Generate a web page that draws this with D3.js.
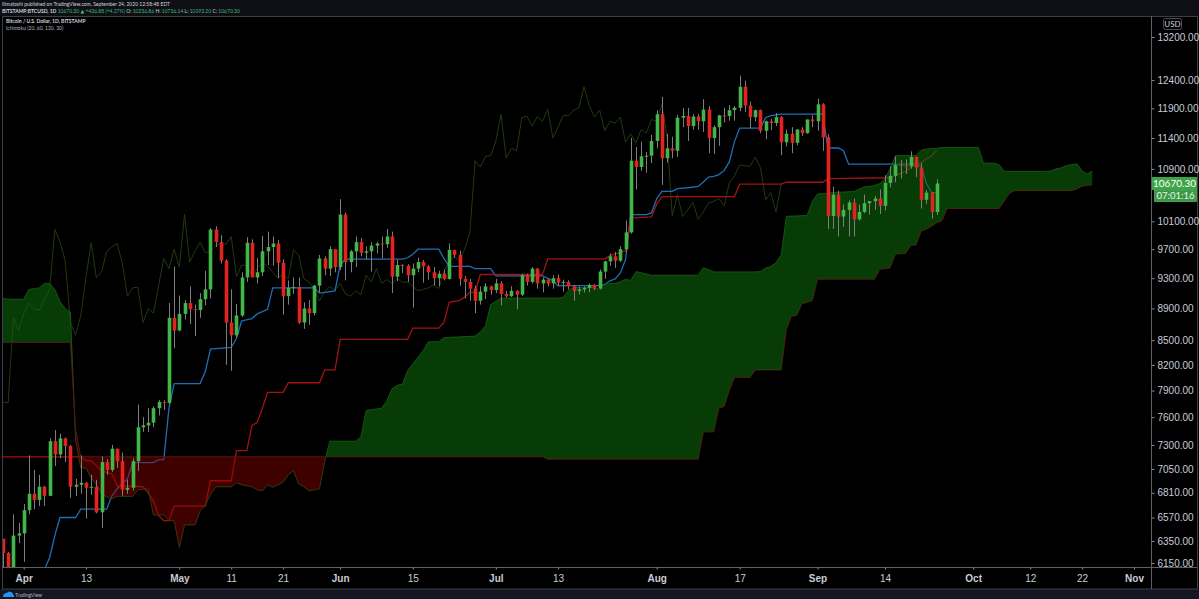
<!DOCTYPE html>
<html>
<head>
<meta charset="utf-8">
<script src="https://cdn.jsdelivr.net/npm/d3@7"></script>
<style>
  html, body { margin: 0; padding: 0; background: #000; }
  svg { display: block; font-family: Lato, "Open Sans", "DejaVu Sans", sans-serif; }
</style>
</head>
<body>
<div id="chart"></div>
<script>
// BITSTAMP:BTCUSD 1D with Ichimoku (20, 60, 120, 30)

// daily candles from 2020-03-27 to 2020-09-24
var firstDay = "2020-03-27";
var open = [
  6760, 6370, 6240, 5880, 6400,
  6420, 6640, 6800, 6740, 6870, 6780, 7340, 7200, 7370, 7290, 6870, 6890, 6910, 6860, 6870, 6620, 7120, 7040, 7260, 7130, 6840, 6860, 7130, 7490, 7510, 7540, 7700, 7770, 7760, 8780,
  8620, 8830, 8970, 8890, 8880, 9020, 9150, 9980, 9800, 9540, 8720, 8560, 8810, 9310, 9790, 9310, 9380, 9670, 9730, 9780, 9510, 9060, 9170, 9180, 8720, 8900, 8840, 9200, 9570, 9430, 9700,
  9450, 10200, 9520, 9670, 9800, 9650, 9670, 9750, 9780, 9770, 9880, 9320, 9480, 9470, 9340, 9430, 9520, 9460, 9380, 9300, 9360, 9290, 9690, 9620, 9290, 9250, 9160, 9000, 9120, 9190,
  9140, 9230, 9090, 9060, 9130, 9080, 9340, 9250, 9430, 9230, 9280, 9230, 9300, 9240, 9250, 9190, 9130, 9150, 9170, 9210, 9160, 9390, 9530, 9600, 9540, 9700, 9940, 11030, 10930, 11100, 11110,
  11350, 11800, 11070, 11230, 11190, 11740, 11770, 11600, 11760, 11680, 11880, 11400, 11580, 11780, 11770, 11870, 11910, 12280, 11950, 11750, 11870, 11520, 11680, 11650, 11750, 11330, 11470, 11320, 11540, 11480, 11710,
  11680, 11970, 11410, 10180, 10500, 10170, 10270, 10380, 10130, 10240, 10370, 10400, 10440, 10330, 10680, 10790, 10960, 10950, 10940, 11090, 10920, 10420, 10530, 10236.86
];
var high = [
  6850, 6370, 6250, 6600, 6520,
  6700, 7190, 7040, 6990, 6880, 7370, 7460, 7420, 7380, 7300, 6950, 7190, 6915, 6990, 6940, 7180, 7150, 7300, 7260, 7220, 6940, 7160, 7740, 7600, 7700, 7720, 7790, 7790, 8970, 9460,
  9070, 9010, 9190, 8950, 9100, 9400, 10000, 10030, 9900, 9560, 9150, 8960, 9380, 9870, 9840, 9580, 9890, 9950, 9880, 9830, 9560, 9270, 9310, 9310, 8980, 9010, 9210, 9620, 9600, 9740, 9700,
  10430, 10230, 9690, 9880, 9860, 9740, 9800, 9800, 9880, 9990, 9950, 9550, 9490, 9490, 9500, 9580, 9550, 9480, 9450, 9400, 9420, 9780, 9690, 9680, 9330, 9290, 9200, 9190, 9230, 9200,
  9290, 9260, 9130, 9190, 9140, 9360, 9360, 9450, 9440, 9310, 9300, 9340, 9350, 9280, 9270, 9210, 9190, 9190, 9230, 9220, 9420, 9540, 9640, 9660, 9740, 10110, 11400, 11250, 11340, 11170, 11450,
  11870, 12100, 11470, 11420, 11790, 11910, 11910, 11800, 11800, 12060, 11940, 11610, 11790, 11910, 11960, 11940, 12480, 12390, 12020, 11880, 11880, 11690, 11720, 11820, 11770, 11540, 11580, 11550, 11580, 11710, 11780,
  12070, 11990, 11460, 10620, 10560, 10350, 10410, 10440, 10350, 10500, 10400, 10480, 10580, 10800, 10940, 11100, 11040, 11050, 11180, 11100, 10990, 10570, 10540, 10736.14
];
var low = [
  6250, 6030, 5860, 5860, 6330,
  6160, 6600, 6650, 6680, 6680, 6780, 7080, 7160, 7120, 6760, 6780, 6800, 6560, 6790, 6610, 6470, 6990, 7020, 7060, 6780, 6800, 6830, 7030, 7440, 7440, 7490, 7620, 7680, 7740, 8400,
  8610, 8760, 8700, 8550, 8780, 8940, 9030, 9730, 9500, 8200, 8130, 8540, 8790, 9250, 9320, 9230, 9330, 9480, 9470, 9300, 8820, 8950, 9090, 8700, 8640, 8690, 8810, 9110, 9340, 9330, 9380,
  9410, 9270, 9380, 9450, 9600, 9560, 9390, 9640, 9570, 9720, 9100, 9260, 9370, 9250, 8910, 9380, 9240, 9280, 9200, 9190, 9270, 9280, 9580, 9200, 9030, 9000, 8840, 8950, 9020, 9080,
  9100, 8940, 9040, 9050, 8890, 9060, 9200, 9230, 9160, 9110, 9190, 9160, 9190, 9120, 9150, 9000, 9080, 9110, 9110, 9140, 9150, 9290, 9470, 9440, 9520, 9650, 9920, 10580, 10870, 10840, 10990,
  11230, 10650, 11000, 11070, 11090, 11580, 11350, 11540, 11540, 11500, 11150, 11140, 11270, 11660, 11690, 11690, 11850, 11840, 11560, 11680, 11480, 11380, 11530, 11600, 11120, 11260, 11150, 11280, 11430, 11470, 11580,
  11520, 11190, 9990, 9990, 9880, 10020, 9880, 9880, 10110, 10220, 10200, 10270, 10210, 10260, 10610, 10690, 10750, 10820, 10900, 10770, 10290, 10360, 10140, 10193.20
];
var close = [
  6370, 6240, 5880, 6400, 6420,
  6640, 6800, 6740, 6870, 6780, 7340, 7200, 7370, 7290, 6870, 6890, 6910, 6860, 6870, 6620, 7120, 7040, 7260, 7130, 6840, 6860, 7130, 7490, 7510, 7540, 7700, 7770, 7760, 8780, 8620,
  8830, 8970, 8890, 8880, 9020, 9150, 9980, 9800, 9540, 8720, 8560, 8810, 9310, 9790, 9310, 9380, 9670, 9730, 9780, 9510, 9060, 9170, 9180, 8720, 8900, 8840, 9200, 9570, 9430, 9700, 9450,
  10200, 9520, 9670, 9800, 9650, 9670, 9750, 9780, 9770, 9880, 9320, 9480, 9470, 9340, 9430, 9520, 9460, 9380, 9300, 9360, 9290, 9690, 9620, 9290, 9250, 9160, 9000, 9120, 9190, 9140,
  9230, 9090, 9060, 9130, 9080, 9340, 9250, 9430, 9230, 9280, 9230, 9300, 9240, 9250, 9190, 9130, 9150, 9170, 9210, 9160, 9390, 9530, 9600, 9540, 9700, 9940, 11030, 10930, 11100, 11110, 11350,
  11800, 11070, 11230, 11190, 11740, 11770, 11600, 11760, 11680, 11880, 11400, 11580, 11780, 11770, 11870, 11910, 12280, 11950, 11750, 11870, 11520, 11680, 11650, 11750, 11330, 11470, 11320, 11540, 11480, 11710, 11680,
  11970, 11410, 10180, 10500, 10170, 10270, 10380, 10130, 10240, 10370, 10400, 10440, 10330, 10680, 10790, 10960, 10950, 10940, 11090, 10920, 10420, 10530, 10240, 10670.30
];

// ichimoku lines, [date, price] at each change
var conversionLine = [
  ["2020-03-27", 5650], ["2020-04-01", 5400], ["2020-04-04", 5820], ["2020-04-05", 6090], ["2020-04-06", 6200],
  ["2020-04-07", 6400], ["2020-04-08", 6570], ["2020-04-11", 6570], ["2020-04-12", 6650], ["2020-04-17", 6650],
  ["2020-04-18", 6780], ["2020-04-19", 6850], ["2020-04-21", 6950], ["2020-04-22", 7115], ["2020-04-26", 7115],
  ["2020-04-27", 7145], ["2020-04-28", 7145], ["2020-04-29", 7700], ["2020-04-30", 7980], ["2020-05-05", 7980],
  ["2020-05-06", 8120], ["2020-05-07", 8390], ["2020-05-11", 8410], ["2020-05-12", 8520], ["2020-05-13", 8740],
  ["2020-05-15", 8770], ["2020-05-16", 8830], ["2020-05-17", 8860], ["2020-05-18", 8890], ["2020-05-19", 9170],
  ["2020-05-27", 9170], ["2020-05-28", 9100], ["2020-05-31", 9130], ["2020-06-01", 9480], ["2020-06-02", 9560],
  ["2020-06-13", 9560], ["2020-06-14", 9580], ["2020-06-15", 9630], ["2020-06-16", 9700], ["2020-06-20", 9700],
  ["2020-06-21", 9570], ["2020-06-22", 9460], ["2020-06-26", 9460], ["2020-06-27", 9430], ["2020-06-30", 9430],
  ["2020-07-01", 9330], ["2020-07-10", 9330], ["2020-07-12", 9265], ["2020-07-13", 9200], ["2020-07-21", 9200],
  ["2020-07-22", 9215], ["2020-07-23", 9265], ["2020-07-24", 9290], ["2020-07-25", 9370], ["2020-07-26", 9555],
  ["2020-07-27", 10200], ["2020-07-30", 10200], ["2020-07-31", 10225], ["2020-08-01", 10435], ["2020-08-02", 10550],
  ["2020-08-04", 10550], ["2020-08-05", 10590], ["2020-08-07", 10605], ["2020-08-09", 10625], ["2020-08-10", 10695],
  ["2020-08-11", 10770], ["2020-08-12", 10780], ["2020-08-13", 10810], ["2020-08-14", 10875], ["2020-08-15", 11010],
  ["2020-08-16", 11340], ["2020-08-17", 11565], ["2020-08-21", 11565], ["2020-08-22", 11740], ["2020-08-23", 11775],
  ["2020-08-25", 11800], ["2020-09-02", 11800], ["2020-09-03", 11235], ["2020-09-05", 11235], ["2020-09-06", 11190],
  ["2020-09-07", 10975], ["2020-09-20", 10975], ["2020-09-21", 10935], ["2020-09-22", 10670], ["2020-09-23", 10530],
  ["2020-09-24", 10530]
];
var baseLine = [
  ["2020-03-27", 7175], ["2020-04-12", 7175], ["2020-04-13", 7135], ["2020-04-14", 7135], ["2020-04-15", 7085],
  ["2020-04-16", 7030], ["2020-04-18", 7000], ["2020-04-19", 6880], ["2020-04-24", 6870], ["2020-04-25", 6810],
  ["2020-04-26", 6730], ["2020-04-27", 6590], ["2020-04-28", 6540], ["2020-04-29", 6540], ["2020-04-30", 6680],
  ["2020-05-06", 6680], ["2020-05-07", 6930], ["2020-05-11", 6930], ["2020-05-12", 7240], ["2020-05-14", 7240],
  ["2020-05-15", 7510], ["2020-05-16", 7540], ["2020-05-17", 7700], ["2020-05-18", 7880], ["2020-05-21", 7880],
  ["2020-05-22", 7990], ["2020-05-28", 7990], ["2020-05-29", 8140], ["2020-05-31", 8140], ["2020-06-01", 8510],
  ["2020-06-14", 8510], ["2020-06-15", 8650], ["2020-06-20", 8650], ["2020-06-21", 8720], ["2020-06-22", 8980],
  ["2020-06-24", 9005], ["2020-06-25", 9045], ["2020-06-26", 9110], ["2020-06-27", 9110], ["2020-06-28", 9350],
  ["2020-07-10", 9350], ["2020-07-11", 9565], ["2020-07-22", 9565], ["2020-07-23", 9610], ["2020-07-26", 9680],
  ["2020-07-27", 10150], ["2020-07-31", 10165], ["2020-08-01", 10355], ["2020-08-02", 10470], ["2020-08-16", 10470],
  ["2020-08-17", 10660], ["2020-08-25", 10660], ["2020-08-26", 10690], ["2020-09-02", 10690], ["2020-09-03", 10745],
  ["2020-09-15", 10760], ["2020-09-17", 10830], ["2020-09-18", 10860], ["2020-09-19", 10930], ["2020-09-21", 11000],
  ["2020-09-22", 11060], ["2020-09-23", 11110], ["2020-09-24", 11200]
];
var leadingSpanA = [
  ["2020-03-27", 9050], ["2020-03-29", 9020], ["2020-04-01", 9020], ["2020-04-02", 9150], ["2020-04-04", 9170],
  ["2020-04-05", 9230], ["2020-04-06", 9230], ["2020-04-07", 9150], ["2020-04-08", 8990], ["2020-04-09", 8900],
  ["2020-04-10", 8850], ["2020-04-11", 7350], ["2020-04-12", 7060], ["2020-04-13", 7060], ["2020-04-14", 6960],
  ["2020-04-15", 6890], ["2020-04-16", 6800], ["2020-04-17", 6770], ["2020-04-18", 6750], ["2020-04-19", 6775],
  ["2020-04-22", 6775], ["2020-04-23", 6840], ["2020-04-25", 6850], ["2020-04-26", 6595], ["2020-04-28", 6595],
  ["2020-04-29", 6540], ["2020-04-30", 6540], ["2020-05-01", 6290], ["2020-05-02", 6500], ["2020-05-04", 6500],
  ["2020-05-05", 6635], ["2020-05-06", 6690], ["2020-05-07", 6790], ["2020-05-08", 6870], ["2020-05-11", 6870],
  ["2020-05-12", 6910], ["2020-05-13", 6890], ["2020-05-15", 6870], ["2020-05-16", 6840], ["2020-05-17", 6830],
  ["2020-05-18", 6890], ["2020-05-19", 6865], ["2020-05-21", 6915], ["2020-05-22", 6990], ["2020-05-23", 7030],
  ["2020-05-24", 6900], ["2020-05-25", 6870], ["2020-05-26", 6830], ["2020-05-27", 6840], ["2020-05-28", 6850],
  ["2020-05-29", 7120], ["2020-05-30", 7340], ["2020-06-04", 7340], ["2020-06-05", 7390], ["2020-06-06", 7674],
  ["2020-06-09", 7700], ["2020-06-10", 7786], ["2020-06-11", 7920], ["2020-06-12", 7960], ["2020-06-13", 7975],
  ["2020-06-14", 8133], ["2020-06-15", 8210], ["2020-06-17", 8373], ["2020-06-18", 8480], ["2020-06-20", 8480],
  ["2020-06-21", 8530], ["2020-06-27", 8550], ["2020-06-28", 8600], ["2020-06-29", 8680], ["2020-06-30", 8950],
  ["2020-07-01", 8995], ["2020-07-02", 9035], ["2020-07-13", 9035], ["2020-07-14", 9045], ["2020-07-15", 9140],
  ["2020-07-16", 9175], ["2020-07-20", 9175], ["2020-07-21", 9145], ["2020-07-22", 9220], ["2020-07-24", 9232],
  ["2020-07-25", 9252], ["2020-07-26", 9285], ["2020-07-27", 9270], ["2020-07-28", 9390], ["2020-07-31", 9340],
  ["2020-08-09", 9340], ["2020-08-10", 9445], ["2020-08-11", 9415], ["2020-08-12", 9385], ["2020-08-20", 9385],
  ["2020-08-21", 9390], ["2020-08-22", 9438], ["2020-08-23", 9460], ["2020-08-24", 9510], ["2020-08-25", 9620],
  ["2020-08-26", 10175], ["2020-08-30", 10185], ["2020-08-31", 10395], ["2020-09-01", 10510], ["2020-09-04", 10530],
  ["2020-09-06", 10540], ["2020-09-08", 10548], ["2020-09-09", 10580], ["2020-09-10", 10620], ["2020-09-11", 10625],
  ["2020-09-12", 10640], ["2020-09-13", 10670], ["2020-09-14", 10740], ["2020-09-15", 10905], ["2020-09-16", 11110],
  ["2020-09-20", 11112], ["2020-09-21", 11200], ["2020-09-22", 11218], ["2020-09-24", 11230], ["2020-09-25", 11245],
  ["2020-10-02", 11245], ["2020-10-03", 10990], ["2020-10-05", 10990], ["2020-10-06", 10965], ["2020-10-07", 10860],
  ["2020-10-15", 10860], ["2020-10-16", 10868], ["2020-10-17", 10900], ["2020-10-18", 10918], ["2020-10-19", 10953],
  ["2020-10-21", 10980], ["2020-10-22", 10865], ["2020-10-23", 10820], ["2020-10-24", 10865]
];
var leadingSpanB = [
  ["2020-03-27", 8470], ["2020-04-10", 8470], ["2020-04-11", 7470], ["2020-04-12", 7175], ["2020-07-10", 7175],
  ["2020-07-11", 7150], ["2020-08-09", 7150], ["2020-08-10", 7440], ["2020-08-12", 7440], ["2020-08-13", 7700],
  ["2020-08-14", 7720], ["2020-08-15", 7900], ["2020-08-16", 8050], ["2020-08-19", 8050], ["2020-08-20", 8140],
  ["2020-08-25", 8140], ["2020-08-26", 8630], ["2020-08-27", 8800], ["2020-08-28", 8810], ["2020-08-29", 8960],
  ["2020-08-31", 9000], ["2020-09-01", 9285], ["2020-09-12", 9285], ["2020-09-13", 9420], ["2020-09-15", 9440],
  ["2020-09-16", 9630], ["2020-09-18", 9640], ["2020-09-19", 9755], ["2020-09-20", 9760], ["2020-09-21", 9960],
  ["2020-09-22", 9985], ["2020-09-23", 10030], ["2020-09-24", 10080], ["2020-09-25", 10110], ["2020-09-26", 10290],
  ["2020-10-06", 10290], ["2020-10-07", 10400], ["2020-10-08", 10520], ["2020-10-09", 10560], ["2020-10-20", 10560],
  ["2020-10-21", 10585], ["2020-10-22", 10630], ["2020-10-24", 10650]
];
var laggingShiftDays = 30;

// axis ticks
var priceTicks = [13200, 12400, 11900, 11400, 10900, 10100, 9700, 9300, 8900, 8500, 8200, 7900, 7600, 7300, 7050, 6810, 6570, 6350, 6150];
var dateTicks = ["2020-04-01", "2020-04-13", "2020-05-01", "2020-05-11", "2020-05-21", "2020-06-01", "2020-06-15", "2020-07-01", "2020-07-13", "2020-08-01", "2020-08-17", "2020-09-01", "2020-09-14", "2020-10-01", "2020-10-12", "2020-10-22", "2020-11-01"];
var dateTickLabels = ["Apr", "13", "May", "11", "21", "Jun", "15", "Jul", "13", "Aug", "17", "Sep", "14", "Oct", "12", "22", "Nov"];

// dimensions

var width = 1199;
var height = 599;
var plot = { left: 2, top: 16, right: 1151, bottom: 567 };

var colUp = "#43b649", colDown = "#e3241e", colWick = "#7e7e7e";
var colText = "#c9ccd4";

var parseDay = d3.utcParse("%Y-%m-%d");
var day0 = parseDay(firstDay);
var days = d3.utcDay.range(day0, d3.utcDay.offset(day0, close.length));

var x = d3.scaleUtc()
    .domain([parseDay("2020-04-01"), parseDay("2020-11-01")])
    .range([23.7, 1134]);
var y = d3.scaleLog()
    .domain([6150, 13200])
    .range([563, 37]);

var svg = d3.select("#chart")
    .append("svg")
    .attr("width", width)
    .attr("height", height);

// background panels
svg.append("rect").attr("width", width).attr("height", height).attr("fill", "#000");
svg.append("rect").attr("width", width).attr("height", plot.top).attr("fill", "#0d0f15");
svg.append("rect").attr("y", 589).attr("width", width).attr("height", height - 589).attr("fill", "#131722");

var defs = svg.append("defs");
defs.append("clipPath").attr("id", "plotClip")
    .append("rect")
    .attr("x", plot.left).attr("y", plot.top)
    .attr("width", plot.right - plot.left).attr("height", plot.bottom - plot.top);

var line = d3.line()
    .x(function (d) { return x(parseDay(d[0])); })
    .y(function (d) { return y(d[1]); });

// cloud: polygon between span A and span B, split in two by clipping against span B
var bAbove = d3.area()
    .x(function (d) { return x(parseDay(d[0])); })
    .y0(0)
    .y1(function (d) { return y(d[1]); });
var bBelow = d3.area()
    .x(function (d) { return x(parseDay(d[0])); })
    .y0(height)
    .y1(function (d) { return y(d[1]); });
defs.append("clipPath").attr("id", "aboveB").append("path").attr("d", bAbove(leadingSpanB));
defs.append("clipPath").attr("id", "belowB").append("path").attr("d", bBelow(leadingSpanB));

var cloudPts = leadingSpanA.map(function (d) { return [x(parseDay(d[0])), y(d[1])]; })
    .concat(leadingSpanB.slice().reverse().map(function (d) { return [x(parseDay(d[0])), y(d[1])]; }));
var cloudPath = d3.line()(cloudPts) + "Z";

var chart = svg.append("g").attr("clip-path", "url(#plotClip)");

// lagging span = closes moved back 30 days
var lagLine = d3.line()
    .x(function (d, i) { return x(d3.utcDay.offset(days[i], -laggingShiftDays)); })
    .y(function (d) { return y(d); });
chart.append("path")
    .attr("d", lagLine(close))
    .attr("fill", "none")
    .attr("stroke", "#223a10")
    .attr("stroke-width", 1);

chart.append("path").attr("d", line(conversionLine))
    .attr("fill", "none").attr("stroke", "#1c6fb6").attr("stroke-width", 1.3);
chart.append("path").attr("d", line(baseLine))
    .attr("fill", "none").attr("stroke", "#a31313").attr("stroke-width", 1.3);
chart.append("path").attr("d", line(leadingSpanA))
    .attr("fill", "none").attr("stroke", "#1b4a14").attr("stroke-width", 1);
chart.append("path").attr("d", line(leadingSpanB))
    .attr("fill", "none").attr("stroke", "#5a1410").attr("stroke-width", 1);

chart.append("g").attr("clip-path", "url(#aboveB)")
    .append("path").attr("d", cloudPath)
    .attr("fill", "rgb(12,110,12)").attr("fill-opacity", 0.55);
chart.append("g").attr("clip-path", "url(#belowB)")
    .append("path").attr("d", cloudPath)
    .attr("fill", "rgb(140,0,0)").attr("fill-opacity", 0.45);

// candles
var candles = days.map(function (d, i) {
    return { date: d, o: open[i], h: high[i], l: low[i], c: close[i] };
});
var bodyW = 3.6;
var candle = chart.selectAll(".candle")
    .data(candles)
    .enter()
    .append("g")
    .attr("class", "candle");
candle.append("line")
    .attr("x1", function (d) { return Math.round(x(d.date)) + 0.5; })
    .attr("x2", function (d) { return Math.round(x(d.date)) + 0.5; })
    .attr("y1", function (d) { return y(d.h); })
    .attr("y2", function (d) { return y(d.l); })
    .attr("stroke", colWick)
    .attr("stroke-width", 1);
candle.append("rect")
    .attr("x", function (d) { return Math.round(x(d.date)) + 0.5 - bodyW / 2; })
    .attr("y", function (d) { return y(Math.max(d.o, d.c)); })
    .attr("width", bodyW)
    .attr("height", function (d) { return Math.max(1, Math.abs(y(d.o) - y(d.c))); })
    .attr("fill", function (d) { return d.c >= d.o ? colUp : colDown; });

// frame
svg.append("rect")
    .attr("x", plot.left + 0.5).attr("y", plot.top + 0.5)
    .attr("width", width - plot.left - 2).attr("height", 589 - plot.top - 0.5)
    .attr("fill", "none").attr("stroke", "#3a3e48");
svg.append("line").attr("x1", plot.right + 0.5).attr("x2", plot.right + 0.5)
    .attr("y1", plot.top).attr("y2", 589).attr("stroke", "#5d606b");
svg.append("line").attr("x1", plot.left).attr("x2", width - 2)
    .attr("y1", plot.bottom + 0.5).attr("y2", plot.bottom + 0.5).attr("stroke", "#5d606b");

// price axis
var yAxis = svg.append("g")
    .attr("transform", "translate(" + (plot.right + 0.5) + ",0)")
    .call(d3.axisRight(y).tickValues(priceTicks).tickFormat(d3.format(".2f")).tickSize(3).tickPadding(3));
yAxis.select(".domain").remove();
yAxis.selectAll("line").attr("stroke", "#8a8d96");
yAxis.selectAll("text").attr("fill", colText).style("font-size", "10px");

// date axis
var xAxis = svg.append("g")
    .attr("transform", "translate(0," + (plot.bottom + 0.5) + ")")
    .call(d3.axisBottom(x).tickValues(dateTicks.map(parseDay))
        .tickFormat(function (d, i) { return dateTickLabels[i]; })
        .tickSize(2).tickPadding(5));
xAxis.select(".domain").remove();
xAxis.selectAll("line").attr("stroke", "#8a8d96");
xAxis.selectAll("text").attr("fill", colText).style("font-size", "10px")
    .style("font-weight", function (d, i) { return isNaN(+dateTickLabels[i]) ? "700" : "400"; });

// USD label
svg.append("rect").attr("x", 1163.5).attr("y", 18.5).attr("width", 18).attr("height", 11).attr("rx", 2)
    .attr("fill", "none").attr("stroke", "#4a4d56");
svg.append("text").attr("x", 1172.5).attr("y", 26.8).attr("text-anchor", "middle")
    .attr("fill", colText).style("font-size", "8px").text("USD");

// last price tags
var lastY = y(close[close.length - 1]);
svg.append("rect").attr("x", plot.right + 1).attr("y", lastY - 6.5).attr("width", 45).attr("height", 13)
    .attr("fill", "#3fa548");
svg.append("text").attr("x", plot.right + 23.5).attr("y", lastY + 3.5).attr("text-anchor", "middle")
    .attr("fill", "#fff").style("font-size", "10px").text(d3.format(".2f")(close[close.length - 1]));
svg.append("rect").attr("x", plot.right + 3.5).attr("y", lastY + 7).attr("width", 42).attr("height", 11)
    .attr("fill", "#3a9a43").attr("stroke", "#5bc063").attr("stroke-width", 0.7);
svg.append("text").attr("x", plot.right + 24.5).attr("y", lastY + 15.8).attr("text-anchor", "middle")
    .attr("fill", "#e8f5e9").style("font-size", "9.5px").text("07:01:16");

// header and legend
svg.append("text").attr("x", 2).attr("y", 6).attr("fill", "#d1d4dc").style("font-size", "5px")
    .text("lilmatoshi published on TradingView.com, September 24, 2020 12:58:48 EDT");
var h2 = svg.append("text").attr("x", 2).attr("y", 13).style("font-size", "5px").attr("fill", "#d1d4dc");
h2.append("tspan").style("font-weight", "700").text("BITSTAMP:BTCUSD, 1D ");
h2.append("tspan").attr("fill", "#3fb77a").text("10670.30 \u25B2 +436.88 (+4.27%) ");
h2.append("tspan").text("O: ");
h2.append("tspan").attr("fill", "#3fb77a").text("10236.86 ");
h2.append("tspan").text("H: ");
h2.append("tspan").attr("fill", "#3fb77a").text("10736.14 ");
h2.append("tspan").text("L: ");
h2.append("tspan").attr("fill", "#3fb77a").text("10193.20 ");
h2.append("tspan").text("C: ");
h2.append("tspan").attr("fill", "#3fb77a").text("10670.30");

svg.append("text").attr("x", 6).attr("y", 23).attr("fill", "#d1d4dc").style("font-size", "5px")
    .style("font-weight", "700").text("Bitcoin / U.S. Dollar, 1D, BITSTAMP");
svg.append("text").attr("x", 6).attr("y", 30).attr("fill", "#b2b5be").style("font-size", "5px")
    .text("Ichimoku (20, 60, 120, 30)");

// footer logo
svg.append("path").attr("d", "M3,597 q0,-4 4,-4 q1,-2.5 3.5,-1 q2.5,0 2.5,2.5 q1.5,0.5 1,2.5 Z")
    .attr("fill", "#2196f3");
svg.append("text").attr("x", 15).attr("y", 596.5).attr("fill", "#b2b5be").style("font-size", "5px")
    .text("TradingView");
</script>
</body>
</html>
